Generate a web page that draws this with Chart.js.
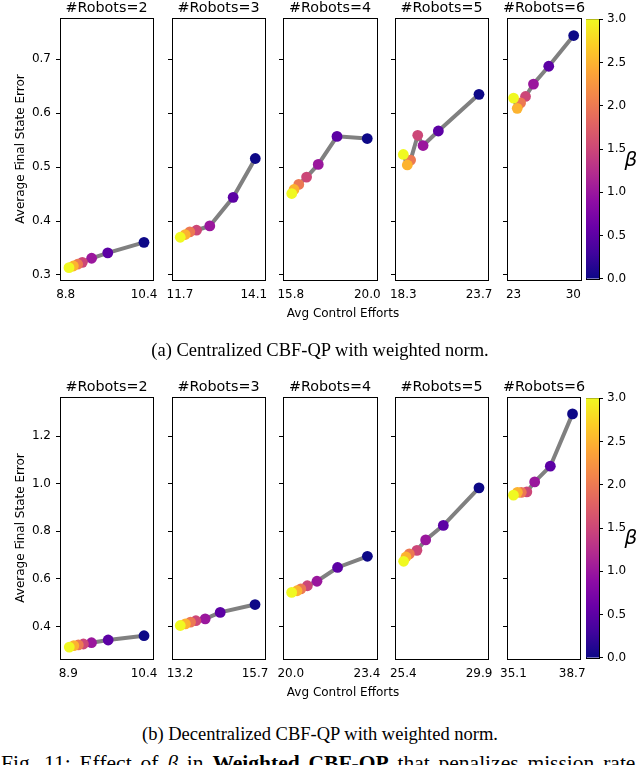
<!DOCTYPE html>
<html>
<head>
<meta charset="utf-8">
<script src="https://cdn.jsdelivr.net/npm/chart.js@4.4.1/dist/chart.umd.min.js"></script>
<style>
  body { margin: 0; background: #fff; }
  #fig { position: relative; width: 640px; height: 765px; overflow: hidden; background: #fff; }
  .box { position: absolute; }
  .txt { position: absolute; white-space: nowrap; transform: translate(-50%, -50%); color: #000; }
</style>
</head>
<body>
<div id="fig"></div>
<script>
// beta of each point (0 = navy ... 3 = yellow), same order in every array below
const betas = [0, 0.5, 1, 1.5, 2, 2.5, 3];
const robotCounts = [2, 3, 4, 5, 6];

// (a) centralized, one inner array per robot count
const centralEffort = [
  [10.4, 9.66, 9.33, 9.14, 9.045, 8.957, 8.868],
  [14.15, 13.43, 12.67, 12.24, 12.02, 11.87, 11.71],
  [20.0, 18.34, 17.31, 16.67, 16.24, 15.98, 15.855],
  [23.7, 20.8, 19.71, 19.33, 18.82, 18.585, 18.3],
  [30.04, 27.12, 25.33, 24.4, 23.82, 23.43, 23.0]
];
const centralError = [
  [0.3605, 0.341, 0.331, 0.3235, 0.32, 0.3167, 0.3136],
  [0.516, 0.444, 0.391, 0.383, 0.38, 0.375, 0.37],
  [0.553, 0.557, 0.505, 0.4815, 0.468, 0.4586, 0.451],
  [0.635, 0.567, 0.54, 0.559, 0.513, 0.504, 0.5235],
  [0.744, 0.687, 0.654, 0.631, 0.619, 0.609, 0.628]
];
const centralXTicks = [["8.8", "10.4"], ["11.7", "14.1"], ["15.8", "20.0"], ["18.3", "23.7"], ["23", "30"]];
const centralXRange = [[8.684, 10.584], [11.441, 14.466], [15.375, 20.536], [17.708, 24.342], [22.23, 30.898]];
const centralYTicks = [0.3, 0.4, 0.5, 0.6, 0.7];
const centralYRange = [0.2907, 0.7765];

// (b) decentralized
const decentralEffort = [
  [10.4, 9.69, 9.36, 9.2, 9.1, 9.01, 8.92],
  [15.7, 14.54, 14.04, 13.73, 13.55, 13.38, 13.21],
  [23.42, 22.09, 21.17, 20.74, 20.45, 20.28, 20.04],
  [29.9, 27.78, 26.73, 26.21, 25.76, 25.56, 25.42],
  [38.72, 37.36, 36.4, 35.92, 35.58, 35.34, 35.1]
];
const decentralError = [
  [0.361, 0.343, 0.3315, 0.326, 0.322, 0.319, 0.313],
  [0.492, 0.459, 0.432, 0.424, 0.418, 0.411, 0.404],
  [0.695, 0.648, 0.59, 0.571, 0.558, 0.55, 0.543],
  [0.983, 0.825, 0.764, 0.72, 0.705, 0.692, 0.674],
  [1.294, 1.074, 1.008, 0.966, 0.964, 0.964, 0.952]
];
const decentralXTicks = [["8.9", "10.4"], ["13.2", "15.7"], ["20.0", "23.4"], ["25.4", "29.9"], ["35.1", "38.7"]];
const decentralXRange = [[8.736, 10.578], [12.934, 16.032], [19.654, 23.849], [24.907, 30.435], [34.704, 39.162]];
const decentralYTicks = [0.4, 0.6, 0.8, 1.0, 1.2];
const decentralYRange = [0.263, 1.365];

const colorbarTicks = [0, 0.5, 1, 1.5, 2, 2.5, 3];

// plasma colormap
const plasmaStops = ["#0d0887", "#41049d", "#6a00a8", "#8f0da4", "#b12a90", "#cc4778",
                     "#e16462", "#f2844b", "#fca636", "#fcce25", "#f0f921"];
function hexRgb(h) {
  return [parseInt(h.slice(1, 3), 16), parseInt(h.slice(3, 5), 16), parseInt(h.slice(5, 7), 16)];
}
function plasma(t) {
  t = Math.min(1, Math.max(0, t)) * (plasmaStops.length - 1);
  const i = Math.min(Math.floor(t), plasmaStops.length - 2);
  const f = t - i;
  const a = hexRgb(plasmaStops[i]), b = hexRgb(plasmaStops[i + 1]);
  const c = a.map((v, k) => Math.round(v + (b[k] - v) * f));
  return "rgb(" + c.join(",") + ")";
}

Chart.defaults.font.family = "'DejaVu Sans', sans-serif";
Chart.defaults.color = "#000";

const fig = document.getElementById("fig");

// draw the 4 spines around the plot area
const framePlugin = {
  id: "frame",
  beforeDatasetsDraw(chart) {
    const { ctx, chartArea: a } = chart;
    ctx.save();
    ctx.strokeStyle = "#000";
    ctx.lineWidth = 1;
    ctx.strokeRect(Math.round(a.left) + 0.5, Math.round(a.top) + 0.5,
                   Math.round(a.right - a.left), Math.round(a.bottom - a.top));
    ctx.restore();
  }
};

const panelLeft = [60, 172, 283, 395, 507];
const panelWidth = [93, 93, 94, 93, 74];
const panelHeight = 262;
const rowTop = [18, 397];
const tickFont = { size: 12 };

function addBox(left, top, w, h) {
  const d = document.createElement("div");
  d.className = "box";
  d.style.left = left + "px";
  d.style.top = top + "px";
  d.style.width = w + "px";
  d.style.height = h + "px";
  const c = document.createElement("canvas");
  d.appendChild(c);
  fig.appendChild(d);
  return c;
}

function addText(html, x, y, style) {
  const d = document.createElement("div");
  d.className = "txt";
  d.innerHTML = html;
  d.style.left = x + "px";
  d.style.top = y + "px";
  Object.assign(d.style, style || {});
  fig.appendChild(d);
  return d;
}

const sansFont = { fontFamily: "'DejaVu Sans', sans-serif" };

function makePanel(row, i, effort, error, xTicks, xRange, yTicks, yRange) {
  const canvas = addBox(panelLeft[i] - 60, rowTop[row] - 18, panelWidth[i] + 74, 18 + panelHeight + 25);
  addText("#Robots=" + robotCounts[i], panelLeft[i] + panelWidth[i] / 2, rowTop[row] - 11,
    Object.assign({ fontSize: "14.3px" }, sansFont));
  const tickVals = xTicks.map(Number);
  new Chart(canvas, {
    type: "scatter",
    data: {
      datasets: [{
        data: effort.map((x, k) => ({ x: x, y: error[k] })),
        showLine: true,
        borderColor: "#808080",
        borderWidth: 4,
        pointRadius: 5.4,
        pointBorderWidth: 0,
        pointBackgroundColor: betas.map(b => plasma(b / 3)),
        clip: false
      }]
    },
    options: {
      responsive: true,
      maintainAspectRatio: false,
      animation: false,
      layout: { padding: { left: 0, right: 14, top: 18, bottom: 0 } },
      plugins: {
        legend: { display: false },
        tooltip: { enabled: false }
      },
      scales: {
        x: {
          type: "linear",
          min: xRange[0],
          max: xRange[1],
          afterFit: s => { s.height = 25; },
          afterBuildTicks: s => { s.ticks = tickVals.map(v => ({ value: v })); },
          ticks: {
            font: tickFont,
            padding: 8,
            maxRotation: 0,
            autoSkip: false,
            callback: (v, idx) => xTicks[idx]
          },
          grid: { display: false, drawTicks: false },
          border: { display: false }
        },
        y: {
          min: yRange[0],
          max: yRange[1],
          afterFit: s => { s.width = 60; },
          afterBuildTicks: s => { s.ticks = yTicks.map(v => ({ value: v })); },
          ticks: {
            display: i === 0,
            font: tickFont,
            padding: 5,
            callback: v => v.toFixed(1)
          },
          grid: { drawOnChartArea: false, drawTicks: true, tickLength: 4, color: "#000" },
          border: { display: false },
          title: {
            display: i === 0,
            text: "Average Final State Error",
            font: tickFont,
            padding: { top: 14, bottom: 0 }
          }
        }
      }
    },
    plugins: [framePlugin]
  });
}

function makeColorbar(row) {
  const canvas = addBox(586, rowTop[row] - 10, 53, panelHeight + 20);
  new Chart(canvas, {
    type: "bar",
    data: {
      labels: ["beta"],
      datasets: [{
        data: [colorbarTicks[colorbarTicks.length - 1]],
        barPercentage: 1,
        categoryPercentage: 1,
        borderWidth: 0,
        backgroundColor: ctx => {
          const a = ctx.chart.chartArea;
          if (!a) return "#000";
          const g = ctx.chart.ctx.createLinearGradient(0, a.bottom, 0, a.top);
          plasmaStops.forEach((c, k) => g.addColorStop(k / (plasmaStops.length - 1), c));
          return g;
        }
      }]
    },
    options: {
      responsive: true,
      maintainAspectRatio: false,
      animation: false,
      layout: { padding: { left: 0, right: 0, top: 10, bottom: 10 } },
      plugins: { legend: { display: false }, tooltip: { enabled: false } },
      scales: {
        x: { display: false },
        y: {
          position: "right",
          min: 0,
          max: 3,
          afterFit: s => { s.width = 40; },
          afterBuildTicks: s => { s.ticks = colorbarTicks.map(v => ({ value: v })); },
          ticks: { font: tickFont, padding: 4, callback: v => v.toFixed(1) },
          grid: { drawOnChartArea: false, drawTicks: true, tickLength: 4, color: "#000" },
          border: { display: false }
        }
      }
    },
    plugins: [framePlugin]
  });
}

for (let i = 0; i < 5; i++) {
  makePanel(0, i, centralEffort[i], centralError[i], centralXTicks[i], centralXRange[i], centralYTicks, centralYRange);
  makePanel(1, i, decentralEffort[i], decentralError[i], decentralXTicks[i], decentralXRange[i], decentralYTicks, decentralYRange);
}
makeColorbar(0);
makeColorbar(1);

const labelFont = Object.assign({ fontSize: "12px" }, sansFont);
addText("Avg Control Efforts", 343, 313, labelFont);
addText("Avg Control Efforts", 343, 692, labelFont);
const betaFont = Object.assign({ fontSize: "20px", fontStyle: "italic" }, sansFont);
addText("β", 631, 159, betaFont);
addText("β", 631, 537, betaFont);

const subCapFont = { fontFamily: "'Liberation Serif', serif", fontSize: "18.5px" };
addText("(a) Centralized CBF-QP with weighted norm.", 320, 350, subCapFont);
addText("(b) Decentralized CBF-QP with weighted norm.", 320, 734, subCapFont);
addText("Fig. 11: Effect of <i>β</i> in <b>Weighted CBF-QP</b> that penalizes mission rate", 1, 753, {
  transform: "none", lineHeight: "21.5px", fontFamily: "'Liberation Serif', serif",
  fontSize: "21.5px", wordSpacing: "3.5px"
});
</script>
</body>
</html>
